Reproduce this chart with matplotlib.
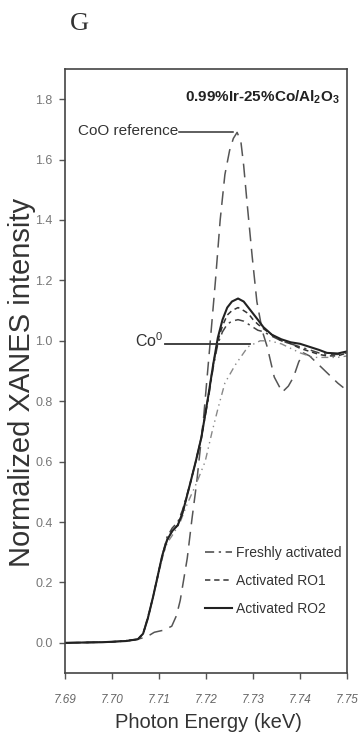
import matplotlib
matplotlib.use("Agg")
import matplotlib.pyplot as plt

# --- data (energy in keV, normalized intensity) ---
coo_e = [7.690, 7.700, 7.705, 7.7074, 7.709, 7.711, 7.7127, 7.7137, 7.7145, 7.716,
         7.717, 7.718, 7.7195, 7.7209, 7.722, 7.723, 7.724, 7.725, 7.7258, 7.7266,
         7.7274, 7.728, 7.7287, 7.7298, 7.7308, 7.732, 7.733, 7.7345, 7.7362, 7.7375,
         7.7386, 7.7397, 7.7407, 7.742, 7.744, 7.746, 7.748, 7.7492]
coo_v = [0.0, 0.003, 0.01, 0.02, 0.035, 0.042, 0.055, 0.09, 0.14, 0.28,
         0.41, 0.53, 0.75, 1.00, 1.20, 1.40, 1.55, 1.63, 1.67, 1.69,
         1.66, 1.58, 1.46, 1.28, 1.13, 1.03, 0.98, 0.88, 0.83, 0.85,
         0.88, 0.93, 0.96, 0.95, 0.92, 0.89, 0.86, 0.845]

co0_e = [7.690, 7.700, 7.7055, 7.7066, 7.7087, 7.7107, 7.7117, 7.7130, 7.7145, 7.716,
         7.718, 7.7198, 7.7213, 7.7226, 7.724, 7.7262, 7.7289, 7.7315, 7.7335, 7.736,
         7.738, 7.740, 7.7428, 7.745, 7.748, 7.750]
co0_v = [0.0, 0.003, 0.012, 0.03, 0.15, 0.28, 0.33, 0.36, 0.40, 0.46,
         0.53, 0.60, 0.70, 0.78, 0.86, 0.92, 0.98, 1.00, 1.00, 0.99,
         0.975, 0.96, 0.945, 0.945, 0.945, 0.95]

act_e = [7.690, 7.698, 7.703, 7.7055, 7.7066, 7.7076, 7.7087, 7.7097, 7.7107, 7.7117,
         7.7128, 7.7140, 7.7150, 7.7165, 7.7178, 7.7190, 7.7205, 7.7215, 7.7225, 7.7235,
         7.7245, 7.7255, 7.7268, 7.728, 7.729, 7.730, 7.731, 7.7322, 7.734, 7.736,
         7.738, 7.740, 7.742, 7.744, 7.7457, 7.748, 7.750]
ro2_v = [0.000, 0.002, 0.006, 0.012, 0.03, 0.08, 0.15, 0.22, 0.29, 0.34,
         0.37, 0.39, 0.43, 0.52, 0.60, 0.68, 0.82, 0.92, 1.01, 1.07,
         1.11, 1.13, 1.14, 1.13, 1.11, 1.09, 1.07, 1.045, 1.02, 1.005,
         0.995, 0.99, 0.98, 0.97, 0.96, 0.958, 0.965]
ro1_v = [0.000, 0.002, 0.006, 0.012, 0.03, 0.08, 0.15, 0.22, 0.29, 0.34,
         0.37, 0.39, 0.43, 0.52, 0.60, 0.68, 0.82, 0.92, 1.00, 1.05,
         1.085, 1.10, 1.11, 1.10, 1.09, 1.07, 1.055, 1.04, 1.02, 1.0,
         0.99, 0.975, 0.965, 0.955, 0.95, 0.95, 0.96]
fresh_v = [0.000, 0.002, 0.006, 0.012, 0.03, 0.08, 0.15, 0.22, 0.29, 0.35,
           0.38, 0.40, 0.44, 0.52, 0.60, 0.68, 0.81, 0.91, 0.99, 1.03,
           1.055, 1.065, 1.07, 1.065, 1.055, 1.045, 1.035, 1.03, 1.015, 1.0,
           0.99, 0.98, 0.97, 0.96, 0.955, 0.955, 0.96]

legend_labels = ["Freshly activated", "Activated RO1", "Activated RO2"]
xticks = [7.69, 7.70, 7.71, 7.72, 7.73, 7.74, 7.75]
yticks = [0.0, 0.2, 0.4, 0.6, 0.8, 1.0, 1.2, 1.4, 1.6, 1.8]

sans = ["Liberation Sans", "DejaVu Sans"]
plt.rcParams["mathtext.fontset"] = "custom"
plt.rcParams["mathtext.rm"] = "Liberation Sans"
plt.rcParams["mathtext.bf"] = "Liberation Sans:bold"

dpi = 100
fig = plt.figure(figsize=(359 / dpi, 753 / dpi), dpi=dpi)
ax = fig.add_axes([0.181, 0.1062, 0.786, 0.8022])

ax.plot(coo_e, coo_v, color="#555555", lw=1.1, dashes=(9, 5))
ax.plot(co0_e, co0_v, color="#888888", lw=1.0, dashes=(5, 3, 1, 3, 1, 3))
l1, = ax.plot(act_e, fresh_v, color="#444444", lw=1.1, dashes=(6, 3, 1.5, 3))
l2, = ax.plot(act_e, ro1_v, color="#333333", lw=1.1, dashes=(3.5, 2.5))
l3, = ax.plot(act_e, ro2_v, color="#222222", lw=1.5)

ax.set_xlim(7.69, 7.75)
ax.set_ylim(-0.1, 1.9)
ax.set_xticks(xticks)
ax.set_xticklabels(["%.2f" % t for t in xticks], family=sans, fontsize=8.5,
                   style="italic")
ax.set_yticks(yticks)
ax.set_yticklabels(["%.1f" % t for t in yticks], family=sans, fontsize=9)
ax.tick_params(axis="x", direction="out", length=4, width=1, pad=11, colors="#555555",
               labelcolor="#666666")
ax.tick_params(axis="y", direction="out", length=4, width=1, pad=5, colors="#555555",
               labelcolor="#777777")
for s in ax.spines.values():
    s.set_color("#444444")
    s.set_linewidth(1.2)

# annotations
ax.text(0.975, 0.954, r"0.99%Ir-25%Co/Al$_\mathbf{2}$O$_\mathbf{3}$", transform=ax.transAxes,
        ha="right", va="center", family=sans, fontsize=11, fontweight="bold", color="#222222")
ax.text(7.7140, 1.695, "CoO reference", ha="right", va="center", family=sans,
        fontsize=11, color="#333333")
ax.plot([7.7143, 7.7258], [1.69, 1.69], color="#333333", lw=1.1)
ax.text(7.7109, 1.0, r"Co$^0$", ha="right", va="center", family=sans,
        fontsize=11.5, color="#333333")
ax.plot([7.7113, 7.7294], [0.99, 0.99], color="#333333", lw=1.3)

leg = ax.legend([l1, l2, l3], legend_labels, loc="upper left",
                bbox_to_anchor=(0.47, 0.222), frameon=False, handlelength=2.0,
                handletextpad=0.3, labelspacing=1.0, borderpad=0,
                prop={"family": sans, "size": 10})
for t in leg.get_texts():
    t.set_color("#333333")

fig.text(79 / 359, 1 - 24 / 753, "G", ha="center", va="center",
         family=["Liberation Serif", "DejaVu Serif"], fontsize=19, color="#333333")
fig.text(208 / 359, 1 - 722 / 753, "Photon Energy (keV)", ha="center", va="center",
         family=sans, fontsize=14.5, color="#333333")
fig.text(22 / 359, 1 - 382 / 753, "Normalized XANES intensity", ha="center", va="center",
         rotation=90, family=sans, fontsize=21, color="#333333")

fig.savefig("out.png", dpi=dpi)
